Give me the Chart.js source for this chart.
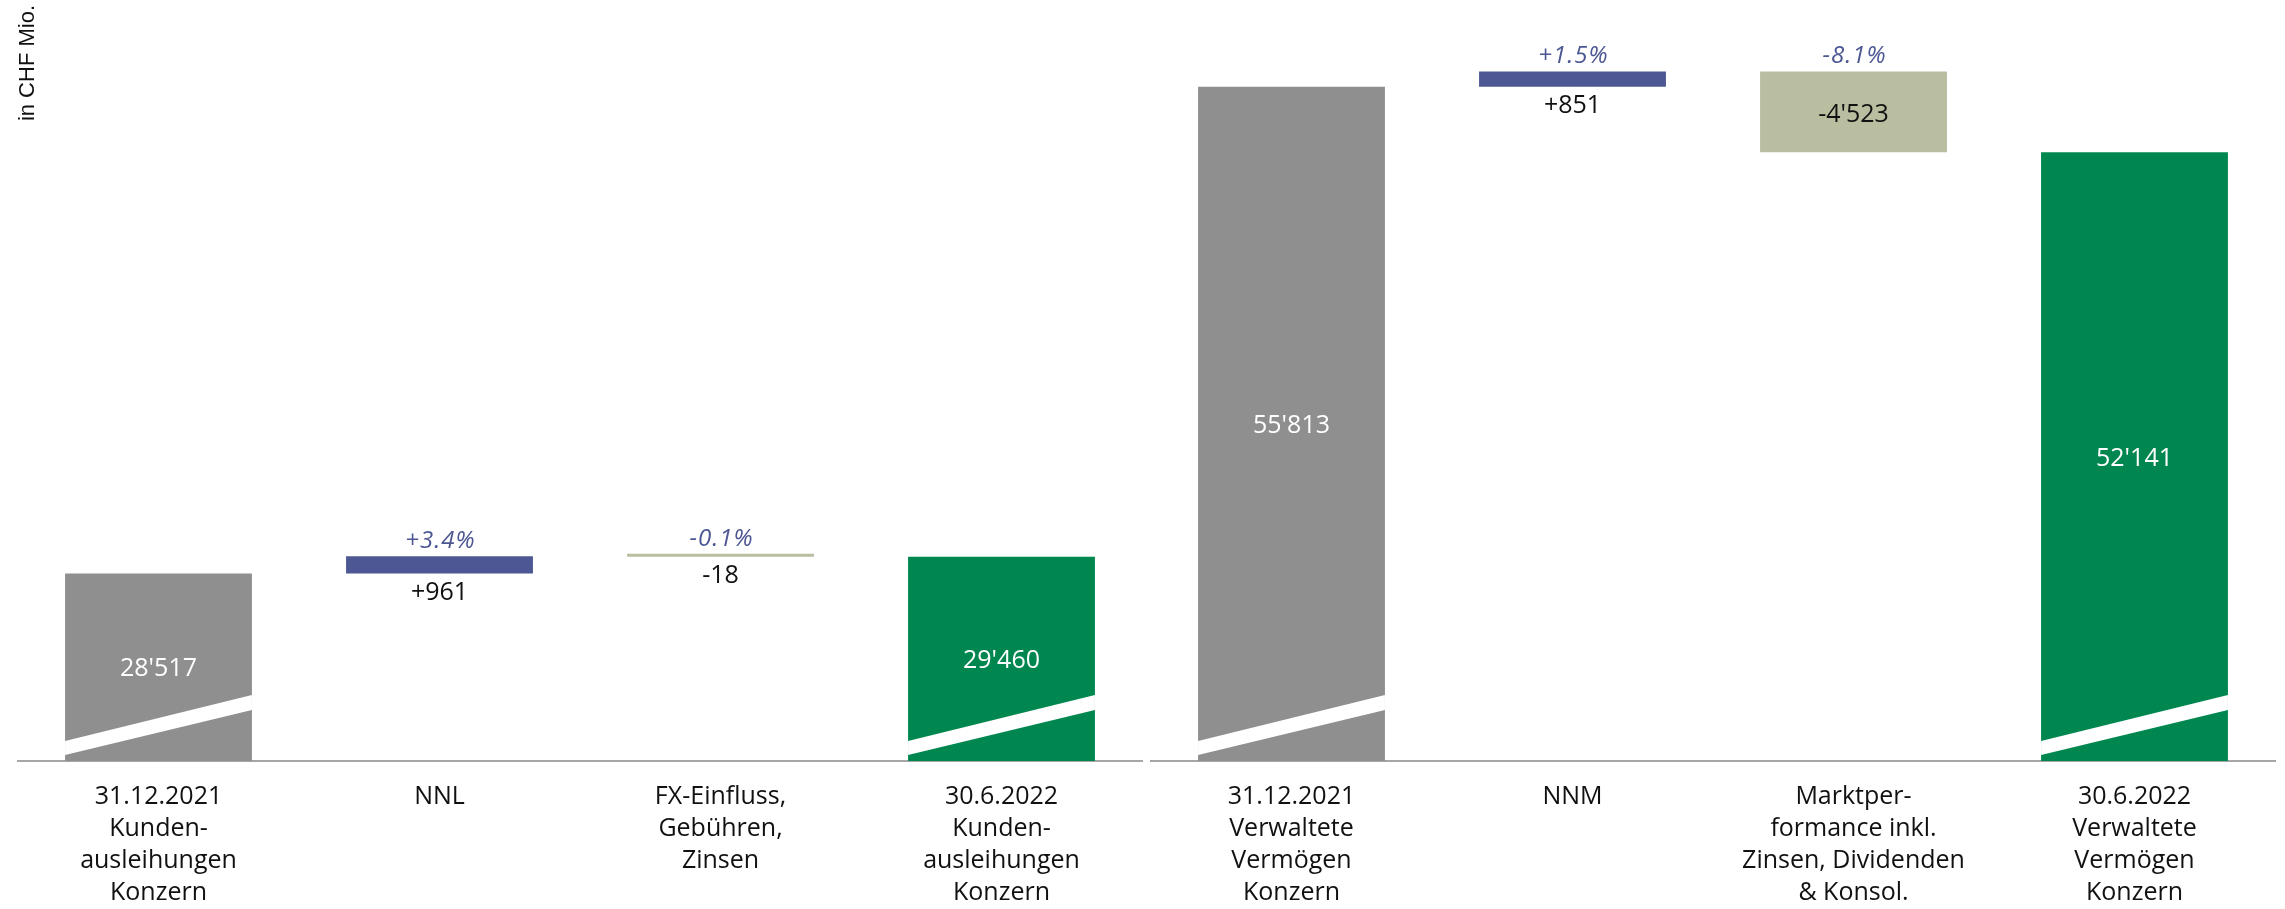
<!DOCTYPE html>
<html>
<head>
<meta charset="utf-8">
<title>Kundenausleihungen und Verwaltete Vermögen</title>
<script src="https://cdn.jsdelivr.net/npm/chart.js@4/dist/chart.umd.min.js"></script>
<style>
  html, body { margin: 0; padding: 0; background: #ffffff; }
  #wrap { position: relative; width: 2285px; height: 909px; overflow: hidden; }
  canvas { position: absolute; top: 0; }
  #loans { left: 0; }
  #assets { left: 1146px; }
</style>
</head>
<body>
<div id="wrap">
  <canvas id="loans" width="1146" height="909"></canvas>
  <canvas id="assets" width="1139" height="909"></canvas>
</div>
<script>
// Kundenausleihungen Konzern (CHF Mio.)
const loanCategories = [
  ['31.12.2021', 'Kunden-', 'ausleihungen', 'Konzern'],
  ['NNL'],
  ['FX-Einfluss,', 'Gebühren,', 'Zinsen'],
  ['30.6.2022', 'Kunden-', 'ausleihungen', 'Konzern']
];
const loanValues = [28517, 961, -18, 29460];

// Verwaltete Vermögen Konzern (CHF Mio.)
const assetCategories = [
  ['31.12.2021', 'Verwaltete', 'Vermögen', 'Konzern'],
  ['NNM'],
  ['Marktper-', 'formance inkl.', 'Zinsen, Dividenden', '& Konsol.'],
  ['30.6.2022', 'Verwaltete', 'Vermögen', 'Konzern']
];
const assetValues = [55813, 851, -4523, 52141];

// value axis is broken: bars start at this value
const axisBreak = 18000;
const axisTop = 60400;
const unitLabel = 'in CHF Mio.';

const COLORS = {
  start: '#8f8f8f',
  end: '#00874f',
  up: '#4c5793',
  down: '#b9bea1',
  pct: '#4c5793',
  axis: '#a6a6a6',
  text: '#111111'
};

const FONT = '"Open Sans", "Noto Sans", sans-serif';

function isTotal(i, n) { return i === 0 || i === n - 1; }

// floating [from, to] ranges of a waterfall
function waterfall(values) {
  let run = values[0];
  return values.map((v, i) => {
    if (isTotal(i, values.length)) return [axisBreak, v];
    const seg = [run, run + v];
    run += v;
    return seg;
  });
}

function barColors(values) {
  return values.map((v, i) => {
    if (i === 0) return COLORS.start;
    if (i === values.length - 1) return COLORS.end;
    return v >= 0 ? COLORS.up : COLORS.down;
  });
}

function fmt(v, signed) {
  const s = Math.abs(v).toString().replace(/\B(?=(\d{3})+(?!\d))/g, "'");
  return (v < 0 ? '-' : (signed ? '+' : '')) + s;
}

function pct(v, base) {
  const p = (v / base * 100).toFixed(1);
  return (v >= 0 ? '+' : '') + p + '%';
}

// value labels, growth percentages and the axis-break stripe
const waterfallLabels = {
  id: 'waterfallLabels',
  afterDatasetsDraw(chart) {
    const ctx = chart.ctx;
    const values = chart.data.datasets[0].values;
    const n = values.length;
    const meta = chart.getDatasetMeta(0);
    meta.data.forEach((bar, i) => {
      const p = bar.getProps(['x', 'y', 'base', 'width'], true);
      const top = Math.min(p.y, p.base);
      const bottom = Math.max(p.y, p.base);
      const l = p.x - p.width / 2;
      const r = p.x + p.width / 2;
      const v = values[i];
      ctx.save();
      ctx.textAlign = 'center';
      ctx.textBaseline = 'middle';
      if (isTotal(i, n)) {
        ctx.fillStyle = '#ffffff';
        ctx.beginPath();
        ctx.moveTo(l, bottom - 6);
        ctx.lineTo(r, bottom - 51);
        ctx.lineTo(r, bottom - 66);
        ctx.lineTo(l, bottom - 20);
        ctx.closePath();
        ctx.fill();
        ctx.font = '25px ' + FONT;
        ctx.fillText(fmt(v, false), p.x, (top + bottom) / 2 + 2);
      } else {
        ctx.font = 'italic 24px ' + FONT;
        ctx.fillStyle = COLORS.pct;
        ctx.letterSpacing = '1px';
        ctx.fillText(pct(v, values[0]), p.x + 1, top - 15);
        ctx.letterSpacing = '0px';
        ctx.font = '25px ' + FONT;
        ctx.fillStyle = COLORS.text;
        if (bottom - top > 50) {
          ctx.fillText(fmt(v, true), p.x, (top + bottom) / 2 + 3);
        } else {
          ctx.fillText(fmt(v, true), p.x, bottom + 19);
        }
      }
      ctx.restore();
    });
  }
};

function makeChart(id, categories, values, withUnit, padding) {
  const yAxis = {
    display: withUnit,
    min: axisBreak,
    max: axisTop,
    grid: { display: false },
    border: { display: false },
    ticks: { display: false },
    title: {
      display: withUnit,
      text: unitLabel,
      align: 'end',
      color: COLORS.text,
      font: { family: '"Liberation Sans", Arial, sans-serif', size: 22 },
      padding: { top: 15, bottom: 0 }
    }
  };
  if (withUnit) {
    // keep the unit caption narrow so the plot starts right next to it
    yAxis.afterFit = (scale) => { scale.width = 18; };
  }
  return new Chart(document.getElementById(id), {
    type: 'bar',
    data: {
      labels: categories,
      datasets: [{
        data: waterfall(values),
        values: values,
        backgroundColor: barColors(values),
        borderWidth: 0,
        barPercentage: 0.665,
        categoryPercentage: 1,
        minBarLength: 3
      }]
    },
    options: {
      responsive: false,
      animation: false,
      devicePixelRatio: 1,
      layout: { padding: padding },
      plugins: { legend: { display: false }, tooltip: { enabled: false } },
      scales: {
        x: {
          grid: { display: false, drawTicks: false },
          border: { display: true, color: COLORS.axis, width: 2 },
          ticks: {
            color: COLORS.text,
            font: { family: FONT, size: 25, lineHeight: '32px' },
            padding: 20,
            maxRotation: 0,
            minRotation: 0,
            autoSkip: false
          },
          afterFit(scale) { scale.height = 148; }
        },
        y: yAxis
      }
    },
    plugins: [waterfallLabels]
  });
}

makeChart('loans', loanCategories, loanValues, true, { left: 0, right: 4, top: 5, bottom: 0 });
makeChart('assets', assetCategories, assetValues, false, { left: 5, right: 10, top: 5, bottom: 0 });
</script>
</body>
</html>
